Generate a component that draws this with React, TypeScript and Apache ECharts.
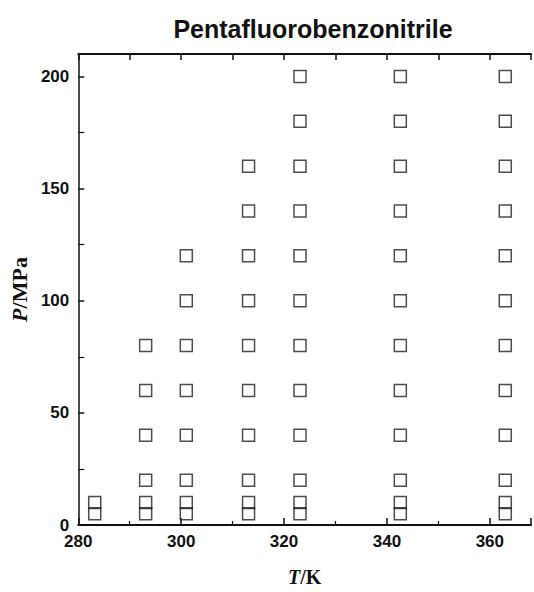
import React, { useEffect, useRef } from "react";
import * as echarts from "echarts";

const title = "Pentafluorobenzonitrile";
const temperatures = [283.2, 293.1, 301.0, 313.1, 323.1, 342.6, 363.0];
const pressuresByT = [
  [5, 10],
  [5, 10, 20, 40, 60, 80],
  [5, 10, 20, 40, 60, 80, 100, 120],
  [5, 10, 20, 40, 60, 80, 100, 120, 140, 160],
  [5, 10, 20, 40, 60, 80, 100, 120, 140, 160, 180, 200],
  [5, 10, 20, 40, 60, 80, 100, 120, 140, 160, 180, 200],
  [5, 10, 20, 40, 60, 80, 100, 120, 140, 160, 180, 200],
];
const xTicks = [280, 300, 320, 340, 360];
const yTicks = [0, 50, 100, 150, 200];

export default function App() {
  const ref = useRef<HTMLDivElement>(null);
  useEffect(() => {
    if (!ref.current) return;
    const chart = echarts.init(ref.current, null, { renderer: "svg" });
    const data: number[][] = [];
    temperatures.forEach((t, i) => pressuresByT[i].forEach((p) => data.push([t, p])));
    const sans = "'Liberation Sans', Arial, sans-serif";
    const serif = "'Liberation Serif', 'Times New Roman', serif";
    chart.setOption({
      animation: false,
      backgroundColor: "#fff",
      title: {
        text: title,
        left: 308,
        top: 11,
        textAlign: "center",
        textStyle: { fontFamily: sans, fontWeight: "bold", fontSize: 25, color: "#111" },
      },
      grid: { left: 74, top: 54, right: 0, bottom: 58 },
      xAxis: [
        {
          type: "value",
          min: 280,
          max: 368,
          interval: 20,
          position: "bottom",
          axisLine: { show: true, lineStyle: { color: "#111", width: 2 } },
          axisTick: { show: true, inside: true, length: 7, lineStyle: { color: "#111", width: 1.5 } },
          minorTick: { show: true, splitNumber: 2, length: 4, lineStyle: { color: "#111", width: 1.2 } },
          splitLine: { show: false },
          axisLabel: {
            margin: 8,
            fontFamily: sans,
            fontWeight: "bold",
            fontSize: 17,
            color: "#111",
            formatter: (v: number) => (xTicks.includes(v) ? String(v) : ""),
          },
          name: "{i|T}{b|/K}",
          nameLocation: "middle",
          nameGap: 42,
          nameTextStyle: {
            rich: {
              i: { fontFamily: serif, fontStyle: "italic", fontWeight: "bold", fontSize: 20, color: "#111" },
              b: { fontFamily: serif, fontWeight: "bold", fontSize: 20, color: "#111" },
            },
          },
        },
        {
          type: "value",
          min: 280,
          max: 368,
          interval: 10,
          position: "top",
          axisLine: { show: true, lineStyle: { color: "#111", width: 2 } },
          axisTick: { show: true, inside: true, length: 6, lineStyle: { color: "#111", width: 1.5 } },
          splitLine: { show: false },
          axisLabel: { show: false },
        },
      ],
      yAxis: {
        type: "value",
        min: 0,
        max: 210,
        interval: 50,
        axisLine: { show: true, lineStyle: { color: "#111", width: 1.5 } },
        axisTick: { show: true, inside: true, length: 6, lineStyle: { color: "#111", width: 1.5 } },
        minorTick: { show: true, splitNumber: 2, length: 6, lineStyle: { color: "#111", width: 1.2 } },
        splitLine: { show: false },
        axisLabel: {
          margin: 9,
          fontFamily: sans,
          fontWeight: "bold",
          fontSize: 17,
          color: "#111",
          formatter: (v: number) => (yTicks.includes(v) ? String(v) : ""),
        },
        name: "{i|P}{b|/MPa}",
        nameLocation: "middle",
        nameRotate: 90,
        nameGap: 41,
        nameTextStyle: {
          rich: {
            i: { fontFamily: serif, fontStyle: "italic", fontWeight: "bold", fontSize: 22, color: "#111" },
            b: { fontFamily: serif, fontWeight: "bold", fontSize: 22, color: "#111" },
          },
        },
      },
      series: [
        {
          type: "scatter",
          xAxisIndex: 0,
          data,
          symbol: "rect",
          symbolSize: 12,
          itemStyle: { color: "none", borderColor: "#222", borderWidth: 1.5 },
        },
      ],
    });
    return () => chart.dispose();
  }, []);
  return <div ref={ref} style={{ width: 534, height: 592, position: "absolute", left: 0, top: 0 }} />;
}
